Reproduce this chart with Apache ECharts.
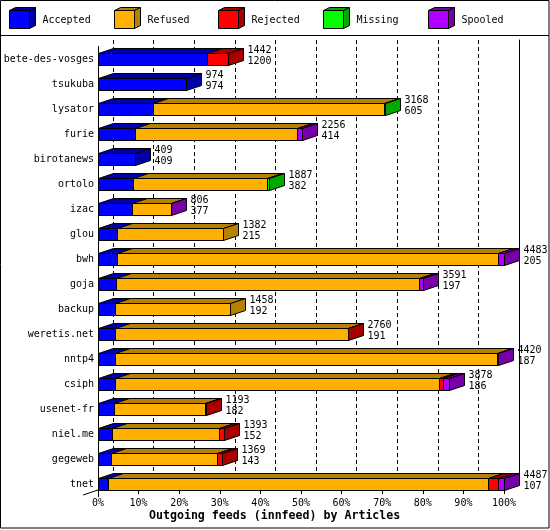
<!DOCTYPE html>
<html><head><meta charset="utf-8">
<script src="https://cdn.jsdelivr.net/npm/echarts@6/dist/echarts.min.js"></script>
<style>html,body{margin:0;padding:0;background:#fff}#c{width:550px;height:530px}</style>
</head><body><div id="c"></div><script>
const categories = ['bete-des-vosges','tsukuba','lysator','furie','birotanews','ortolo','izac','glou','bwh','goja','backup','weretis.net','nntp4','csiph','usenet-fr','niel.me','gegeweb','tnet'];
const totals   = [1442,974,3168,2256,409,1887,806,1382,4483,3591,1458,2760,4420,3878,1193,1393,1369,4487];
const accepted = [1200,974,605,414,409,382,377,215,205,197,192,191,187,186,182,152,143,107];
const refused  = [0,0,2556,1782,0,1488,427,1167,4220,3354,1266,2567,4223,3586,1001,1186,1176,4207];
const rejected = [242,0,0,0,0,0,0,0,0,0,0,2,0,36,10,55,50,110];
const missing  = [0,0,7,0,0,17,0,0,0,0,0,0,0,0,0,0,0,0];
const spooled  = [0,0,0,60,0,0,2,0,58,40,0,0,10,70,0,0,0,63];
const seriesNames = ['Accepted','Refused','Rejected','Missing','Spooled'];
const xTickMin = 0, xTickMax = 100, xTickStep = 10;

const frontColors = ['#0000ff','#ffb000','#ff0000','#00ff00','#b000ff'];
const darkColors  = ['#0000a8','#b88000','#a80000','#00a800','#7800a8'];
const FONT = 'DejaVu Sans Mono';

const maxTotal = Math.max.apply(null, totals);
const segArrays = [accepted, refused, rejected, missing, spooled];
const data = categories.map((c, i) => [i].concat(segArrays.map(a => a[i] / maxTotal * 100)));

const DX = 15, DY = -5;
function px(v){ return Math.round(v) + 0.5; }

function renderItem(params, api) {
  const i = api.value(0);
  const base = api.coord([0, i]);
  const cy = Math.round(base[1]);
  const yTop = cy - 5.5, yBot = cy + 6.5;
  const children = [];
  let cum = 0, lastK = 0;
  for (let k = 0; k < 5; k++) {
    const v = api.value(k + 1);
    if (v <= 0) continue;
    const x0 = px(api.coord([cum, i])[0]);
    cum += v;
    const x1 = px(api.coord([cum, i])[0]);
    children.push({type:'polygon', shape:{points:[[x0,yTop],[x1,yTop],[x1+DX,yTop+DY],[x0+DX,yTop+DY]]},
      style:{fill:darkColors[k], stroke:'#000', lineWidth:1}});
    children.push({type:'rect', shape:{x:x0, y:yTop, width:x1-x0, height:yBot-yTop},
      style:{fill:frontColors[k], stroke:'#000', lineWidth:1}});
    lastK = k;
  }
  const xe = px(api.coord([cum, i])[0]);
  children.push({type:'polygon', shape:{points:[[xe,yTop],[xe+DX,yTop+DY],[xe+DX,yBot+DY],[xe,yBot]]},
    style:{fill:darkColors[lastK], stroke:'#000', lineWidth:1}});
  children.push({type:'text', style:{text: totals[i] + '\n' + accepted[i], x: xe + DX + 4, y: cy - 3.5,
    align:'left', verticalAlign:'middle', fontFamily:FONT, fontSize:10, lineHeight:11, fill:'#000'}});
  return {type:'group', children};
}

const graphics = [
  {type:'rect', shape:{x:0.5, y:0.5, width:548.5, height:527.5}, style:{fill:'none', stroke:'#000', lineWidth:1}, z:100},
  {type:'line', shape:{x1:0.5, y1:35.5, x2:549, y2:35.5}, style:{stroke:'#000', lineWidth:1}, z:100},
  {type:'line', shape:{x1:83, y1:495, x2:98, y2:490}, style:{stroke:'#000', lineWidth:1}, z:100}
];
seriesNames.forEach((name, k) => {
  const x = Math.round(9 + k * 104.7) + 0.5;
  const y = 10.5, w = 20, h = 18, dx = 6, dy = -3;
  graphics.push({type:'polygon', shape:{points:[[x,y],[x+w,y],[x+w+dx,y+dy],[x+dx,y+dy]]}, style:{fill:darkColors[k], stroke:'#000', lineWidth:1}});
  graphics.push({type:'polygon', shape:{points:[[x+w,y],[x+w+dx,y+dy],[x+w+dx,y+h+dy],[x+w,y+h]]}, style:{fill:darkColors[k], stroke:'#000', lineWidth:1}});
  graphics.push({type:'rect', shape:{x:x, y:y, width:w, height:h}, style:{fill:frontColors[k], stroke:'#000', lineWidth:1}});
  graphics.push({type:'text', style:{text:name, x:x + 33, y:20, verticalAlign:'middle', fontFamily:FONT, fontSize:10, fill:'#000'}});
});

const chart = echarts.init(document.getElementById('c'), null, {renderer:'canvas'});
chart.setOption({
  animation:false,
  backgroundColor:'#fff',
  title:{text:'Outgoing feeds (innfeed) by Articles', left:149, top:510, padding:0,
    textStyle:{fontFamily:FONT, fontWeight:'bold', fontSize:11.6, color:'#000'}},
  grid:[{left:98, right:46, top:46.5, bottom:33.5}, {left:113, right:31, top:40, bottom:45}],
  xAxis:[
    {gridIndex:0, type:'value', min:xTickMin, max:xTickMax, interval:xTickStep, offset:-6.5,
      axisLine:{show:true, lineStyle:{color:'#000'}}, axisTick:{show:true, length:4, lineStyle:{color:'#000'}},
      axisLabel:{formatter:'{value}%', color:'#000', fontFamily:FONT, fontSize:10, margin:8},
      splitLine:{show:false}},
    {gridIndex:1, type:'value', min:xTickMin, max:xTickMax, interval:xTickStep,
      axisLine:{show:false}, axisTick:{show:false}, axisLabel:{show:false},
      splitLine:{show:true, lineStyle:{color:'#000', width:1, type:[4,3]}}}
  ],
  yAxis:[
    {gridIndex:0, type:'category', data:categories, inverse:true,
      axisLine:{show:true, lineStyle:{color:'#000'}}, axisTick:{show:false},
      axisLabel:{color:'#000', fontFamily:FONT, fontSize:10, margin:4}, splitLine:{show:false}},
    {gridIndex:1, type:'value', position:'right', min:0, max:1,
      axisLine:{show:true, onZero:false, lineStyle:{color:'#000'}}, axisTick:{show:false},
      axisLabel:{show:false}, splitLine:{show:false}}
  ],
  series:[{type:'custom', name:'feeds', xAxisIndex:0, yAxisIndex:0, renderItem, data, clip:false}],
  graphic: graphics
});
</script></body></html>
